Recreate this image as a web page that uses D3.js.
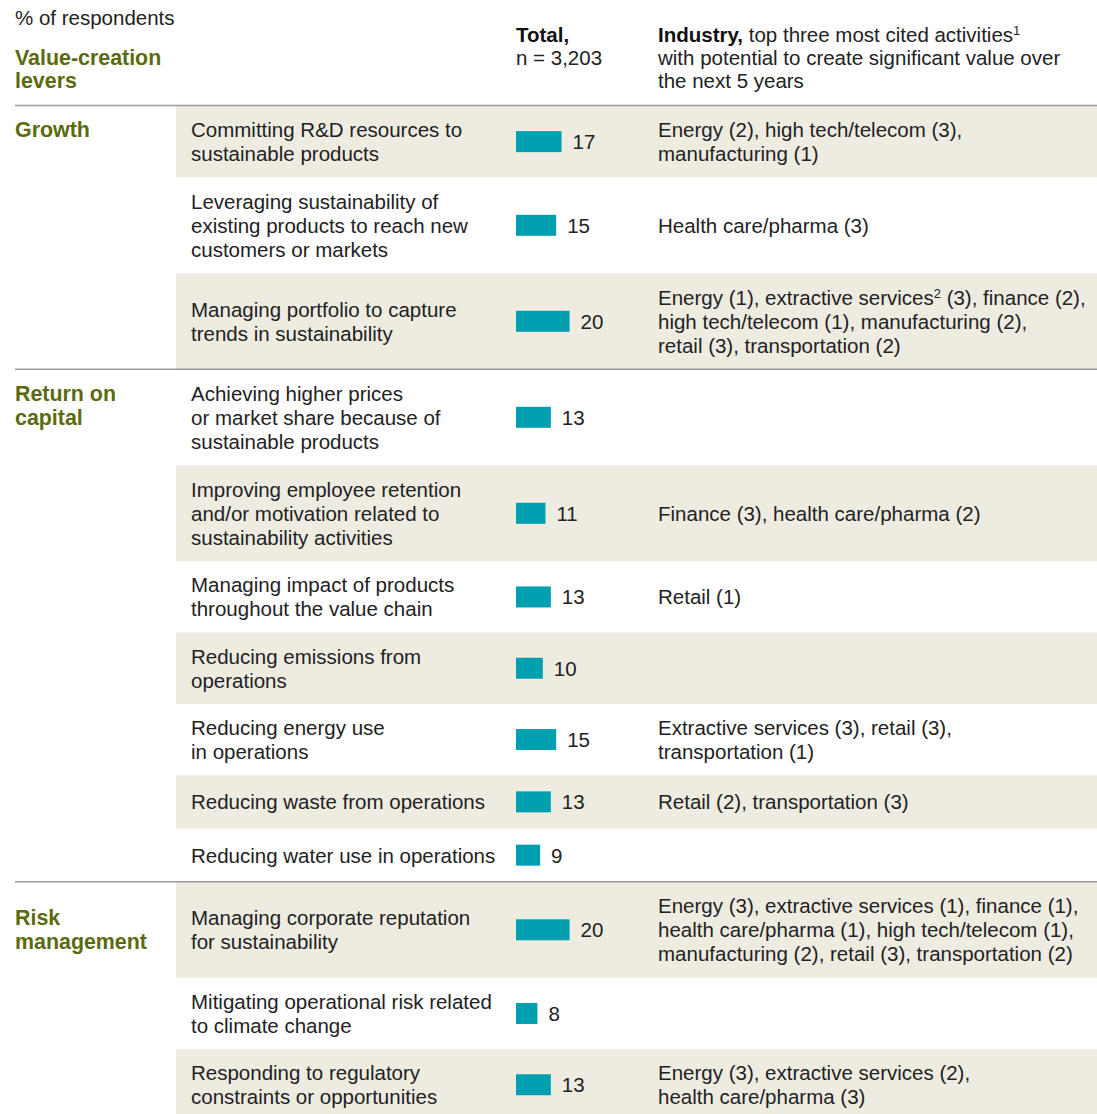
<!DOCTYPE html>
<html>
<head>
<meta charset="utf-8">
<script src="https://cdn.jsdelivr.net/npm/d3@7"></script>
<style>
  html, body { margin: 0; padding: 0; background: #fff; }
  svg { display: block; }
  text { font-family: "Liberation Sans", Arial, Helvetica, sans-serif; }
</style>
</head>
<body>
<svg id="chart" width="1097" height="1114"></svg>
<script>
// ---------- data ----------
const groupNames = [["Growth"], ["Return on", "capital"], ["Risk", "management"]];
const rowGroup = [0, 0, 0, 1, 1, 1, 1, 1, 1, 1, 2, 2, 2];
const leverLabels = [
  ["Committing R&D resources to", "sustainable products"],
  ["Leveraging sustainability of", "existing products to reach new", "customers or markets"],
  ["Managing portfolio to capture", "trends in sustainability"],
  ["Achieving higher prices", "or market share because of", "sustainable products"],
  ["Improving employee retention", "and/or motivation related to", "sustainability activities"],
  ["Managing impact of products", "throughout the value chain"],
  ["Reducing emissions from", "operations"],
  ["Reducing energy use", "in operations"],
  ["Reducing waste from operations"],
  ["Reducing water use in operations"],
  ["Managing corporate reputation", "for sustainability"],
  ["Mitigating operational risk related", "to climate change"],
  ["Responding to regulatory", "constraints or opportunities"]
];
const totals = [17, 15, 20, 13, 11, 13, 10, 15, 13, 9, 20, 8, 13];
const industryNotes = [
  ["Energy (2), high tech/telecom (3),", "manufacturing (1)"],
  ["Health care/pharma (3)"],
  ["Energy (1), extractive services^2 (3), finance (2),", "high tech/telecom (1), manufacturing (2),", "retail (3), transportation (2)"],
  [],
  ["Finance (3), health care/pharma (2)"],
  ["Retail (1)"],
  [],
  ["Extractive services (3), retail (3),", "transportation (1)"],
  ["Retail (2), transportation (3)"],
  [],
  ["Energy (3), extractive services (1), finance (1),", "health care/pharma (1), high tech/telecom (1),", "manufacturing (2), retail (3), transportation (2)"],
  [],
  ["Energy (3), extractive services (2),", "health care/pharma (3)"]
];

// ---------- style / layout ----------
const W = 1097, H = 1114;
const FS = 20.5, FSB = 21.4, LH = 24;
const GREEN = "#5b6a0c", TEAL = "#00a0b0", SHADE = "#eeebe1", INK = "#222", RULE = "#9a9a9a";
const xGroup = 15, xLever = 191, xBar = 516, xInd = 658, shadeX = 176;
const top0 = 106;
const SUP_FS = 13, SUP_RISE = 7;

const svg = d3.select("#chart");

// row geometry
const rowLines = leverLabels.map((l, i) => Math.max(l.length, industryNotes[i].length));
const rowH = n => n === 1 ? 53.3 : (n === 2 ? 71.3 : 96);
const rows = [];
let yy = top0;
rowLines.forEach((n, i) => { rows.push({ i, y: yy, h: rowH(n) }); yy += rowH(n); });

const xScale = d3.scaleLinear().domain([0, 20]).range([0, 53.6]);

// shaded bands
svg.append("g").selectAll("rect").data(rows.filter(r => r.i % 2 === 0)).join("rect")
  .attr("x", shadeX).attr("y", d => d.y).attr("width", W - shadeX).attr("height", d => d.h)
  .attr("fill", SHADE);

// rules: header + group separators
const ruleYs = [top0 - 0.5].concat(rows.filter(r => r.i > 0 && rowGroup[r.i] !== rowGroup[r.i - 1]).map(r => r.y));
svg.append("g").selectAll("line").data(ruleYs).join("line")
  .attr("x1", xGroup).attr("x2", W).attr("y1", d => d).attr("y2", d => d)
  .attr("stroke", RULE).attr("stroke-width", 1.5);

// helper for multi-line text centered on cy; "^n" marks a superscript
function lines(g, arr, x, cy) {
  const start = cy - (arr.length - 1) * LH / 2;
  arr.forEach((s, k) => {
    const t = g.append("text").attr("x", x).attr("y", start + k * LH + FS * 0.36)
      .attr("font-size", FS).attr("fill", INK);
    const parts = s.split(/\^(\d)/);
    let raised = false;
    parts.forEach((p, j) => {
      if (j % 2 === 1) {
        t.append("tspan").attr("font-size", SUP_FS).attr("dy", -SUP_RISE).text(p);
        raised = true;
      } else if (p) {
        const ts = t.append("tspan").text(p);
        if (raised) { ts.attr("dy", SUP_RISE); raised = false; }
      }
    });
  });
}

// header
const hg = svg.append("g");
hg.append("text").attr("x", xGroup).attr("y", 25).attr("font-size", FS).attr("fill", INK).text("% of respondents");
hg.append("text").attr("x", xGroup).attr("y", 65).attr("font-size", FSB).attr("font-weight", "bold").attr("fill", GREEN).text("Value-creation");
hg.append("text").attr("x", xGroup).attr("y", 88).attr("font-size", FSB).attr("font-weight", "bold").attr("fill", GREEN).text("levers");
hg.append("text").attr("x", xBar).attr("y", 41.5).attr("font-size", FS).attr("font-weight", "bold").attr("fill", "#111").text("Total,");
hg.append("text").attr("x", xBar).attr("y", 65).attr("font-size", FS).attr("fill", INK).text("n = 3,203");
const ind1 = hg.append("text").attr("x", xInd).attr("y", 41.5).attr("font-size", FS).attr("fill", INK);
ind1.append("tspan").attr("font-weight", "bold").attr("fill", "#111").text("Industry,");
ind1.append("tspan").text(" top three most cited activities");
ind1.append("tspan").attr("font-size", SUP_FS).attr("dy", -SUP_RISE).text("1");
hg.append("text").attr("x", xInd).attr("y", 65).attr("font-size", FS).attr("fill", INK).text("with potential to create significant value over");
hg.append("text").attr("x", xInd).attr("y", 88).attr("font-size", FS).attr("fill", INK).text("the next 5 years");

// rows
const rg = svg.append("g");
rows.forEach(r => {
  const cy = r.y + r.h / 2;
  const g = rg.append("g");
  lines(g, leverLabels[r.i], xLever, cy);
  lines(g, industryNotes[r.i], xInd, cy);
  // bar
  g.append("rect").attr("x", xBar).attr("y", cy - 10.5).attr("width", xScale(totals[r.i])).attr("height", 21).attr("fill", TEAL);
  g.append("text").attr("x", xBar + xScale(totals[r.i]) + 11).attr("y", cy + FS * 0.36)
    .attr("font-size", FS).attr("fill", INK).text(totals[r.i]);
  // group label, top-aligned with the first lever label line
  if (r.i === 0 || rowGroup[r.i] !== rowGroup[r.i - 1]) {
    const firstY = cy - (leverLabels[r.i].length - 1) * LH / 2;
    groupNames[rowGroup[r.i]].forEach((s, k) => {
      g.append("text").attr("x", xGroup).attr("y", firstY + k * LH + FS * 0.36)
        .attr("font-size", FSB).attr("font-weight", "bold").attr("fill", GREEN).text(s);
    });
  }
});
</script>
</body>
</html>
